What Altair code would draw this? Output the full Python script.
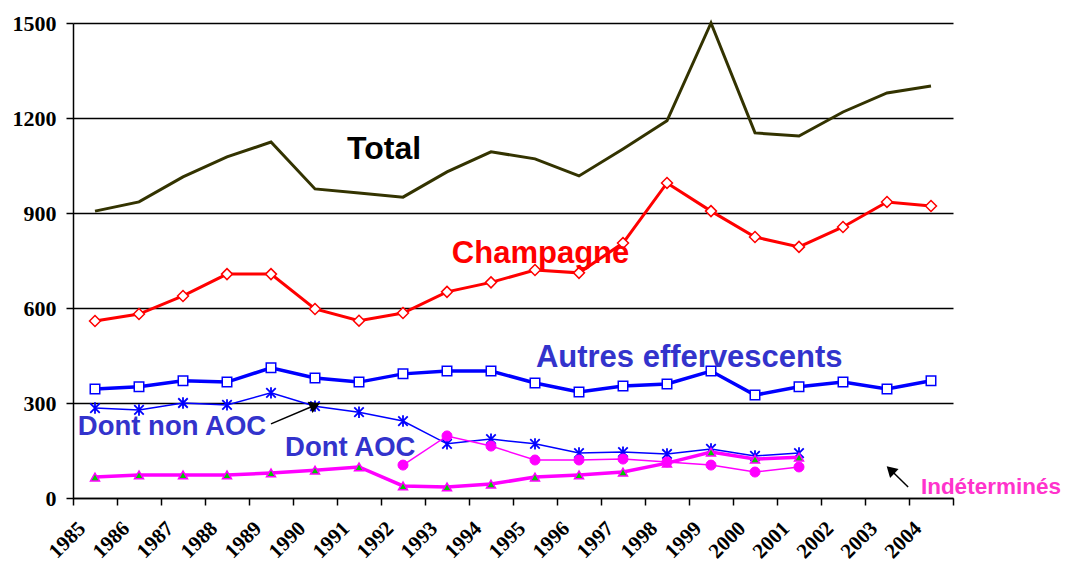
import altair as alt
import pandas as pd

years = list(range(1985, 2005))

total = [906, 935, 1014, 1077, 1124, 976, 963, 950, 1030, 1093, 1071, 1017, 1102, 1191, 1500, 1153, 1143, 1219, 1279, 1301]
champagne = [559, 581, 638, 707, 707, 597, 560, 584, 651, 681, 720, 711, 805, 995, 906, 824, 793, 856, 935, 922]
autres = [344, 351, 370, 366, 411, 379, 366, 392, 401, 401, 363, 335, 354, 360, 401, 325, 351, 366, 344, 370]
non_aoc_years = list(range(1985, 2002))
non_aoc = [284, 278, 300, 294, 332, 290, 271, 243, 171, 186, 171, 142, 145, 139, 155, 133, 142]
aoc_years = list(range(1992, 2002))
aoc = [104, 196, 164, 120, 120, 123, 114, 104, 82, 98]
indet_years = list(range(1985, 2002))
indet = [66, 73, 73, 73, 79, 88, 98, 38, 35, 44, 66, 73, 82, 110, 145, 123, 129]

tick_years = list(range(1985, 2006))
y_ticks = [0, 300, 600, 900, 1200, 1500]

# annotation labels (data units)
lab_text = ["Total", "Champagne", "Autres effervescents", "Dont non AOC", "Dont AOC", "Indéterminés"]
lab_x = [1991.23, 1993.61, 1995.52, 1985.11, 1989.82, 2004.27]
lab_y = [1071, 742, 414, 199, 133, 13]
lab_color = ["#000000", "#FF0000", "#3333CC", "#3333CC", "#3333CC", "#FF33CC"]
lab_size = [32, 31, 31, 27.5, 27.5, 22.5]

# arrows (data units)
arr_x1 = [1989.50, 2003.98]
arr_y1 = [234, 35]
arr_x2 = [1990.50, 2003.58]
arr_y2 = [293, 89]
arr_angle = [67, 314]

XS = alt.Scale(domain=[1985, 2005], nice=False, zero=False)
YS = alt.Scale(domain=[0, 1500], nice=False)

X_AX = alt.Axis(
    values=tick_years,
    labelExpr="datum.value == 2005 ? '' : datum.value",
    labelAngle=-45,
    labelAlign="right",
    labelBaseline="middle",
    labelPadding=20,
    labelOffset=9,
    labelFont="Liberation Serif",
    labelFontWeight="bold",
    labelFontSize=21,
    labelColor="black",
    labelFlush=False,
    labelOverlap=False,
    tickColor="black",
    tickSize=7,
    tickWidth=1.5,
    domainColor="black",
    domainWidth=1.5,
    grid=False,
    title=None,
)
Y_AX = alt.Axis(
    values=y_ticks,
    format="d",
    labelFont="Liberation Serif",
    labelFontWeight="bold",
    labelFontSize=22,
    labelColor="black",
    labelPadding=10,
    tickColor="black",
    tickSize=7,
    tickWidth=1.5,
    domainColor="black",
    domainWidth=1.5,
    grid=True,
    gridColor="black",
    gridWidth=1.5,
    gridOpacity=1,
    title=None,
)


def X(field):
    return alt.X(field, scale=XS, axis=X_AX, title=None)


def Y(field):
    return alt.Y(field, scale=YS, axis=Y_AX, title=None)


def series_df(yrs, vals):
    return pd.DataFrame({"year": yrs, "value": vals})


def line_layer(yrs, vals, color, width, point=None):
    base = alt.Chart(series_df(yrs, vals)).transform_calculate(xc="datum.year + 0.5")
    enc = dict(x=X("xc:Q"), y=Y("value:Q"))
    layers = [base.mark_line(color=color, strokeWidth=width).encode(**enc)]
    if point is not None:
        layers.append(base.mark_point(**point).encode(**enc))
    return layers


ASTERISK = "M-1,-1L1,1M-1,1L1,-1M0,-1.2L0,1.2"

layers = []
layers += line_layer(years, total, "#333300", 3)
layers += line_layer(years, champagne, "#FF0000", 3,
                     dict(shape="diamond", size=120, filled=True, fill="white", stroke="#FF0000", strokeWidth=1.5, opacity=1))
layers += line_layer(years, autres, "#0000FF", 3.5,
                     dict(shape="square", size=90, filled=True, fill="white", stroke="#0000FF", strokeWidth=1.5, opacity=1))
layers += line_layer(non_aoc_years, non_aoc, "#0000FF", 1.5,
                     dict(shape=ASTERISK, size=90, filled=False, stroke="#0000FF", strokeWidth=1.8, opacity=1))
layers += line_layer(indet_years, indet, "#FF00FF", 3.5,
                     dict(shape="triangle-up", size=80, filled=True, fill="#00CC00", stroke="#FF00FF", strokeWidth=1.5, opacity=1))
layers += line_layer(aoc_years, aoc, "#FF00FF", 1.5,
                     dict(shape="circle", size=100, filled=True, fill="#FF00FF", stroke="#FF00FF", strokeWidth=1, opacity=1))

lab_df = pd.DataFrame({"t": lab_text, "x": lab_x, "y": lab_y, "c": lab_color, "s": lab_size})
labels = alt.Chart(lab_df).mark_text(
    font="Liberation Sans", fontWeight="bold", align="left", baseline="alphabetic"
).encode(
    x=X("x:Q"),
    y=Y("y:Q"),
    text="t:N",
    color=alt.Color("c:N", scale=None),
    size=alt.Size("s:Q", scale=None),
)
layers.append(labels)

arr_df = pd.DataFrame({"x1": arr_x1, "y1": arr_y1, "x2": arr_x2, "y2": arr_y2, "a": arr_angle})
arrow_lines = alt.Chart(arr_df).mark_rule(color="black", strokeWidth=1.5).encode(
    x=X("x1:Q"),
    y=Y("y1:Q"),
    x2="x2:Q",
    y2="y2:Q",
)
arrow_heads = alt.Chart(arr_df).mark_point(shape="triangle-up", filled=True, color="black", size=150, opacity=1).encode(
    x=X("x2:Q"),
    y=Y("y2:Q"),
    angle=alt.Angle("a:Q", scale=None),
)
layers += [arrow_lines, arrow_heads]

chart = alt.layer(*layers).properties(
    width=880,
    height=475,
    autosize=alt.AutoSizeParams(type="none"),
    padding={"left": 65, "top": 15, "right": 109, "bottom": 64},
    background="white",
).configure_view(stroke=None)

chart.save("out.html", embed_options={"renderer": "svg", "actions": False})
